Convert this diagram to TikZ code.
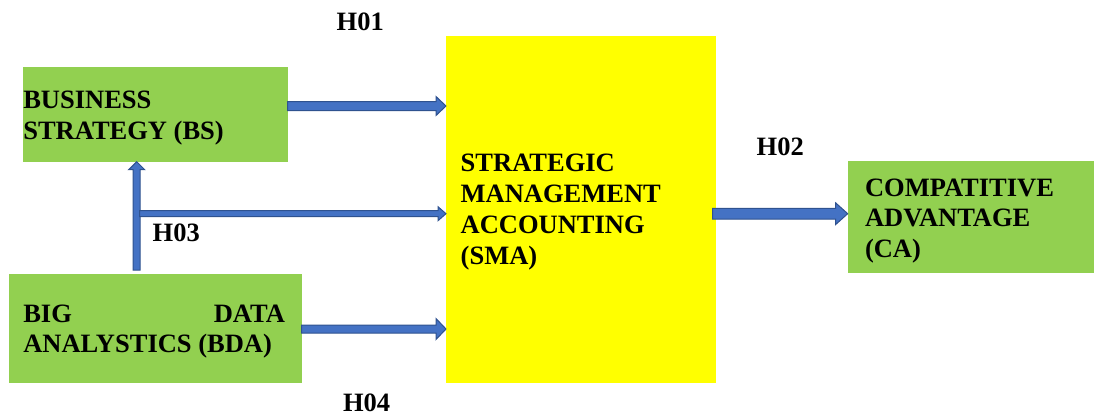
\documentclass[tikz,border=0pt]{standalone}
\usepackage{fontspec}
\setmainfont{Liberation Serif}
\usetikzlibrary{calc}
\definecolor{boxgreen}{HTML}{92D050}
\definecolor{boxyellow}{HTML}{FFFF00}
\definecolor{arrfill}{HTML}{4472C4}
\definecolor{arrline}{HTML}{2F528F}
\tikzset{
  greenbox/.style={rectangle, fill=boxgreen, draw=none, inner sep=0pt, outer sep=0pt, anchor=north west},
  yellowbox/.style={rectangle, fill=boxyellow, draw=none, inner sep=0pt, outer sep=0pt, anchor=north west},
  lbl/.style={inner sep=0pt, outer sep=0pt, font=\fontsize{26.5}{31}\selectfont\bfseries},
  barrow/.style={fill=arrfill, draw=arrline, line width=1pt, line join=miter},
}
% #1 from, #2 to, #3 half shaft, #4 half head, #5 head length
\newcommand\blockarrow[5]{%
  \coordinate (bac) at ($(#2)!#5!(#1)$);
  \filldraw[barrow] ($(#1)!#3!90:(#2)$) -- ($(bac)!#3!90:(#2)$) -- ($(bac)!#4!90:(#2)$)
    -- (#2) -- ($(bac)!#4!-90:(#2)$) -- ($(bac)!#3!-90:(#2)$) -- ($(#1)!#3!-90:(#2)$) -- cycle;}
\begin{document}
\begin{tikzpicture}[x=1pt,y=-1pt]
\useasboundingbox (0,0) rectangle (1094,416);
% boxes
\node[greenbox, minimum width=265pt, minimum height=94.7pt] (bs) at (22.7,67) {};
\node[greenbox, minimum width=292.7pt, minimum height=108.7pt] (bda) at (9,274) {};
\node[yellowbox, minimum width=269.7pt, minimum height=346.7pt] (sma) at (446,36) {};
\node[greenbox, minimum width=246.3pt, minimum height=112.3pt] (ca) at (847.7,161) {};
% box texts
\node[lbl, anchor=base west] (bs1) at (23.3,108.3) {BUSINESS};
\node[lbl, anchor=base west] (bs2) at (23.3,139) {STRATEGY (BS)};
\node[lbl, anchor=base west] (bda1) at (23.3,322.7) {BIG};
\node[lbl, anchor=base east] (bda2) at (285,322.7) {DATA};
\node[lbl, anchor=base west] (bda3) at (23.3,352.9) {ANALYSTICS (BDA)};
\node[lbl, anchor=base west] (sma1) at (460.7,171.7) {STRATEGIC};
\node[lbl, anchor=base west] (sma2) at (460.7,202.5) {MANAGEMENT};
\node[lbl, anchor=base west] (sma3) at (460.7,233.3) {ACCOUNTING};
\node[lbl, anchor=base west] (sma4) at (460.7,264) {(SMA)};
\node[lbl, anchor=base west] (ca1) at (865,196.7) {COMPATITIVE};
\node[lbl, anchor=base west] (ca2) at (865,226.7) {ADVANTAGE};
\node[lbl, anchor=base west] (ca3) at (865,257) {(CA)};
% hypothesis labels
\node[lbl, anchor=base west] (h01) at (336.7,30.7) {H01};
\node[lbl, anchor=base west] (h02) at (756.7,155) {H02};
\node[lbl, anchor=base west] (h03) at (152.7,241) {H03};
\node[lbl, anchor=base west] (h04) at (343,411.7) {H04};
% helper coordinates
\coordinate (ya) at (0,106);
\coordinate (yc) at (0,213.7);
\coordinate (yd) at (0,329);
\coordinate (vbot) at (136.7,270);
\coordinate (hstart) at (139.5,213.7);
\coordinate (smar) at ($(sma.east)+(-3,0)$);
% arrows
\blockarrow{bs.east |- ya}{sma.west |- ya}{4.5pt}{9.5pt}{10pt}
\blockarrow{vbot}{bs.south -| vbot}{3.5pt}{8pt}{8pt}
\blockarrow{hstart}{sma.west |- yc}{3pt}{7pt}{8pt}
\blockarrow{bda.east |- yd}{sma.west |- yd}{4pt}{10.5pt}{10pt}
\blockarrow{smar |- yc}{ca.west |- yc}{5.3pt}{10.8pt}{12pt}
\end{tikzpicture}
\end{document}
